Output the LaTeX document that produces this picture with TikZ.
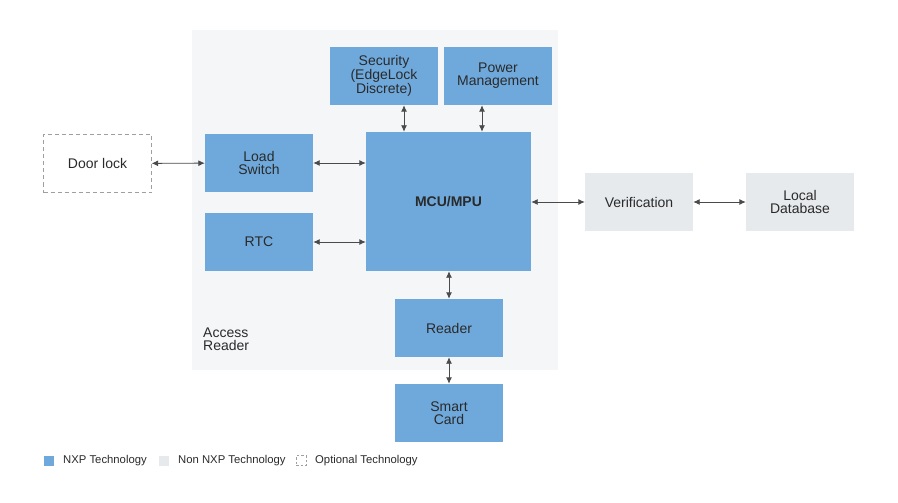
\documentclass[tikz,border=0pt]{standalone}
\usepackage{fontspec}
\setmainfont{Liberation Sans}
\usetikzlibrary{arrows.meta}
\definecolor{nxpblue}{HTML}{6FA9DC}
\definecolor{nonnxp}{HTML}{E6EAED}
\definecolor{panelgray}{HTML}{F4F6F8}
\definecolor{txt}{HTML}{2A2A2A}
\definecolor{edgegray}{HTML}{4A4A4A}
\begin{document}
\begin{tikzpicture}[x=1pt,y=-1pt,
blk/.style = {fill=nxpblue, minimum width=108pt, minimum height=58pt, inner sep=0pt, align=center, text=txt, font=\fontsize{14}{13}\selectfont},
ext/.style = {blk, fill=nonnxp},
opt/.style = {blk, fill=none, draw=gray!75, dash pattern=on 4pt off 3pt},
dedge/.style = {{Latex[length=6.5pt,width=6pt]}-{Latex[length=6.5pt,width=6pt]}, edgegray, line width=0.9pt},
key/.style = {minimum size=10pt, inner sep=0pt},
keytxt/.style = {anchor=west, inner sep=0pt, text=txt, font=\fontsize{11.3}{12}\selectfont}
]
  \useasboundingbox (0,0) rectangle (898,503);
  \node[fill=panelgray, minimum width=366pt, minimum height=340pt, inner sep=0pt] (panel) at (375,200) {};
  \node[keytxt, align=left, font=\fontsize{14}{13}\selectfont] (access) at (203,339.5) {Access\\Reader};

  \node[blk] (sec) at (384,76) {Security\\(EdgeLock\\Discrete)};
  \node[blk] (pwr) at (498,76) {Power\\Management};
  \node[blk, minimum width=165pt, minimum height=139pt, font=\fontsize{14}{13}\selectfont\bfseries] (mcu) at (448.5,201.5) {MCU/MPU};
  \node[blk] (ls) at (259,163) {Load\\Switch};
  \node[blk] (rtc) at (259,242) {RTC};
  \node[opt] (door) at (97.5,163.5) {Door lock};
  \node[ext] (ver) at (639,202) {Verification};
  \node[ext] (db) at (800,202) {Local\\Database};
  \node[blk] (rdr) at (449,328) {Reader};
  \node[blk] (card) at (449,413) {Smart\\Card};

  \draw[dedge] (door) -- (ls);
  \draw[dedge] (ls.east) -- (ls.east -| mcu.west);
  \draw[dedge] (rtc.east) -- (rtc.east -| mcu.west);
  \draw[dedge] ([xshift=20pt]sec.south) -- ([xshift=20pt]sec.south |- mcu.north);
  \draw[dedge] ([xshift=-16pt]pwr.south) -- ([xshift=-16pt]pwr.south |- mcu.north);
  \draw[dedge] (mcu.east |- ver.west) -- (ver.west);
  \draw[dedge] (ver) -- (db);
  \draw[dedge] (mcu.south -| rdr.north) -- (rdr.north);
  \draw[dedge] (rdr) -- (card);

  \node[key, fill=nxpblue] (k1) at (49,460.5) {};
  \node[keytxt] (k1t) at (63,460.5) {NXP Technology};
  \node[key, fill=nonnxp] (k2) at (164,460.5) {};
  \node[keytxt] (k2t) at (178,460.5) {Non NXP Technology};
  \node[key, draw=gray!75, dash pattern=on 2.5pt off 2pt] (k3) at (301,460.5) {};
  \node[keytxt] (k3t) at (315,460.5) {Optional Technology};
\end{tikzpicture}
\end{document}
